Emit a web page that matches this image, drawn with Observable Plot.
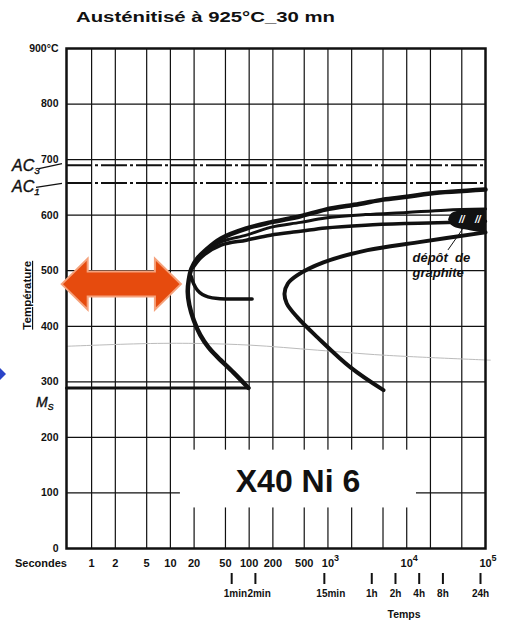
<!DOCTYPE html>
<html><head><meta charset="utf-8">
<script src="https://cdn.jsdelivr.net/npm/d3@7"></script>
<script src="https://cdn.jsdelivr.net/npm/@observablehq/plot@0.6"></script>
<style>html,body{margin:0;padding:0;background:#fff;} #chart svg{display:block}</style>
</head><body><div id="chart"></div>
<script>
// ---------- data ----------
const titleText = "Austénitisé à 925°C_30 mn";
const xTickValues = [1, 2, 5, 10, 20, 50, 100, 200, 500];
const xTickLabels = ["1", "2", "5", "10", "20", "50", "100", "200", "500"];
const powerTickValues = [1000, 10000, 100000];
const powerBase = "10";
const powerExponents = ["3", "4", "5"];
const xGridValues = [1, 2, 5, 10, 20, 50, 100, 200, 500, 1000, 2000, 5000, 10000, 20000, 50000];
const yTickValues = [0, 100, 200, 300, 400, 500, 600, 700, 800, 900];
const yTickLabels = ["0", "100", "200", "300", "400", "500", "600", "700", "800", "900°C"];
const yGridValues = [100, 200, 300, 400, 500, 600, 700, 800];
const minuteTickValues = [60, 120, 900];
const minuteTickLabels = ["1min", "2min", "15min"];
const hourTickValues = [3600, 7200, 14400, 28800, 86400];
const hourTickLabels = ["1h", "2h", "4h", "8h", "24h"];
const criticalNames = ["AC", "AC", "M"];
const criticalSubs = ["3", "1", "S"];
const criticalValues = [690, 658, 289];

// curves: [time (s), temperature (°C)]
const startCurve = [[98,289],[63,317],[40,344],[30.5,362],[24,384],[19.8,411],[17.4,438],[16.6,462],[17.1,483],[18.5,504],[22,522],[28,537],[44,558],[92,576],[186,587],[448,598],[930,610],[2500,620],[5000,628],[10000,633],[20000,639],[100000,646]];
const hookCurve = [[18.3,490],[19.8,476],[22,465],[25.5,457],[30,453],[40,450],[60,449],[109,449]];
const upperCurve2 = [[20,512],[26,530],[44,552],[92,564],[186,578],[448,587],[930,595],[3000,601],[10000,605],[31000,609],[100000,611]];
const upperCurve3 = [[19.5,506],[25,525],[44,546],[92,555],[186,564],[448,571],[930,577],[3000,582],[10000,585],[33000,587],[100000,589]];
const endCurve = [[5070,285],[1933,326],[737,380],[410,416],[300,441],[281,459],[310,477],[410,492],[877,515],[3180,537],[13700,551],[100000,569]];
const msLine = [[0.48,289],[98,289]];
const faintLine = [[0.48,364],[5.6,369],[24,369],[104,366],[737,357],[5070,348],[115000,339]];
const blobTimes = [34000, 37000, 45000, 60000, 100000];
const blobLow = [591, 582, 576, 573, 567];
const blobHigh = [591, 602, 607, 609, 611];
const hatchTimes = [50000, 80000];
const hatchTemp = 592;
const graphiteLeader = [[50600,574],[33600,538]];
const graphiteLines = ["dépôt\u00a0\u00a0de", "graphite"];
const graphiteTime = 11830;
const graphiteTemps = [523, 496];
const steelName = "X40 Ni 6";
const steelLabel = {t: 417, T: 120};
const steelBox = {t1: 13.4, t2: 13300, T1: 73, T2: 177};
const arrow = {from: 0.423, to: 13.8, T: 475};

// ---------- chart ----------
const FONT = "'Liberation Sans', Arial, Helvetica, sans-serif";
const INK = "#111";
const pts = (arr) => arr.map(([t, T]) => ({t, T}));
const blob = blobTimes.map((t, i) => ({t, lo: blobLow[i], hi: blobHigh[i]}));

function marginNotes(index, scales, values, dim) {
  const x = scales.x, y = scales.y;
  const ml = dim.marginLeft, mt = dim.marginTop;
  const g = d3.create("svg:g").attr("font-family", FONT).attr("fill", INK)
    .attr("font-weight", "bold").attr("text-anchor", "start");
  // title
  g.append("text").attr("x", ml + 10).attr("y", mt - 26).attr("font-size", 14)
    .attr("textLength", 259).attr("lengthAdjust", "spacingAndGlyphs").text(titleText);
  // y label
  g.append("text").attr("transform", `translate(${ml - 35},${y(455)}) rotate(-90)`)
    .attr("text-anchor", "middle").attr("font-size", 11.5).attr("text-decoration", "underline").text("Température");
  // Secondes / Temps
  g.append("text").attr("x", ml - 51).attr("y", y(0) + 19).attr("font-size", 11).text("Secondes");
  g.append("text").attr("x", x(9400)).attr("y", y(0) + 69.5).attr("text-anchor", "middle").attr("font-size", 10.5).text("Temps");
  // critical temperature labels
  const place = [
    {x: ml - 54, dy: 6, size: 16, lead: [[ml - 27, 4], [ml - 4, -1]]},
    {x: ml - 54, dy: 10, size: 16, lead: [[ml - 30, 5], [ml - 4, 1]]},
    {x: ml - 30, dy: 20, size: 14, lead: null}
  ];
  criticalValues.forEach((T, i) => {
    const p = place[i];
    const t = g.append("text").attr("x", p.x).attr("y", y(T) + p.dy).attr("font-size", p.size)
      .attr("font-style", "italic").attr("font-weight", "normal").attr("stroke", INK).attr("stroke-width", 0.4);
    t.append("tspan").text(criticalNames[i]);
    t.append("tspan").attr("font-size", p.size * 0.62).attr("dy", 3).text(criticalSubs[i]);
    if (p.lead) {
      g.append("line").attr("x1", p.lead[0][0]).attr("y1", y(T) + p.lead[0][1])
        .attr("x2", p.lead[1][0]).attr("y2", y(T) + p.lead[1][1]).attr("stroke", INK).attr("stroke-width", 1.3);
    }
  });
  // orange double arrow
  const ax1 = x(arrow.from), ax2 = x(arrow.to), ay = y(arrow.T);
  const hl = 26, hh = 25.5, bh = 12.5;
  const poly = [[ax1, ay], [ax1 + hl, ay - hh], [ax1 + hl, ay - bh], [ax2 - hl, ay - bh], [ax2 - hl, ay - hh], [ax2, ay],
    [ax2 - hl, ay + hh], [ax2 - hl, ay + bh], [ax1 + hl, ay + bh], [ax1 + hl, ay + hh]];
  g.append("polygon").attr("points", poly.map(p => p.join(",")).join(" "))
    .attr("fill", "#E64B0E").attr("stroke", "#F5A27C").attr("stroke-width", 2);
  // small blue mark at the left edge (slide artefact)
  const by = y(313);
  g.append("polygon").attr("points", `0,${by - 6} 6,${by} 0,${by + 6}`).attr("fill", "#2a44c8");
  return g.node();
}

const labelStyle = {frameAnchor: "bottom", lineAnchor: "top", fontWeight: "bold", fill: INK};

const chart = Plot.plot({
  width: 509, height: 627,
  marginTop: 48, marginBottom: 79, marginLeft: 66, marginRight: 24,
  x: {type: "log", domain: [0.48, 1e5], axis: null},
  y: {domain: [0, 900], axis: null},
  style: {fontFamily: FONT, background: "white", color: INK, overflow: "visible"},
  marks: [
    Plot.ruleX(xGridValues, {stroke: INK, strokeWidth: 1.2}),
    Plot.ruleY(yGridValues, {stroke: INK, strokeWidth: 1.2}),
    Plot.rect([steelBox], {x1: "t1", x2: "t2", y1: "T1", y2: "T2", fill: "white"}),
    Plot.line(pts(faintLine), {x: "t", y: "T", stroke: "#bbb", strokeWidth: 1, curve: "catmull-rom"}),
    Plot.ruleY(criticalValues.slice(0, 2), {stroke: INK, strokeWidth: 2, strokeDasharray: "26,3,3,3"}),
    Plot.line(pts(msLine), {x: "t", y: "T", stroke: INK, strokeWidth: 3}),
    Plot.line(pts(startCurve), {x: "t", y: "T", stroke: INK, strokeWidth: 4.5, curve: "catmull-rom"}),
    Plot.line(pts(hookCurve), {x: "t", y: "T", stroke: INK, strokeWidth: 3.5, curve: "catmull-rom"}),
    Plot.line(pts(upperCurve2), {x: "t", y: "T", stroke: INK, strokeWidth: 3, curve: "catmull-rom"}),
    Plot.line(pts(upperCurve3), {x: "t", y: "T", stroke: INK, strokeWidth: 3.5, curve: "catmull-rom"}),
    Plot.line(pts(endCurve), {x: "t", y: "T", stroke: INK, strokeWidth: 4, curve: "catmull-rom"}),
    Plot.areaY(blob, {x: "t", y1: "lo", y2: "hi", fill: INK, curve: "catmull-rom"}),
    Plot.text(hatchTimes, {x: d => d, y: () => hatchTemp, text: () => "//", fill: "white", fontSize: 10, fontWeight: "bold", fontStyle: "italic"}),
    Plot.line(pts(graphiteLeader), {x: "t", y: "T", stroke: INK, strokeWidth: 1}),
    Plot.text(graphiteLines, {x: () => graphiteTime, y: (d, i) => graphiteTemps[i], text: d => d, textAnchor: "start",
      fontSize: 13, fontWeight: "bold", fontStyle: "italic", fill: INK}),
    Plot.text([steelLabel], {x: "t", y: "T", text: () => steelName, fontSize: 32, fontWeight: "bold", fill: INK, fontFamily: FONT}),
    Plot.axisY(yTickValues, {tickFormat: d => yTickLabels[yTickValues.indexOf(d)], tickSize: 0, tickPadding: 8,
      fontSize: 10.5, fontWeight: "bold", label: null}),
    Plot.text(xTickValues, {x: d => d, text: (d, i) => xTickLabels[i], dy: 11, fontSize: 11, ...labelStyle}),
    Plot.text(powerTickValues, {x: d => d, text: () => powerBase, dy: 11, fontSize: 11, ...labelStyle}),
    Plot.text(powerTickValues, {x: d => d, text: (d, i) => powerExponents[i], dy: 6, dx: 6, textAnchor: "start", fontSize: 9, ...labelStyle}),
    Plot.axisX([...minuteTickValues, ...hourTickValues], {tickFormat: () => "", tickSize: 11, tickPadding: 0, dy: 25, strokeWidth: 2, label: null}),
    Plot.text(minuteTickValues, {x: d => d, text: (d, i) => minuteTickLabels[i], dy: 41, dx: -8, textAnchor: "start", fontSize: 10, ...labelStyle}),
    Plot.text(hourTickValues, {x: d => d, text: (d, i) => hourTickLabels[i], dy: 41, fontSize: 10, ...labelStyle}),
    Plot.frame({stroke: INK, strokeWidth: 2.5}),
    marginNotes
  ]
});
document.getElementById("chart").appendChild(chart);
</script>
</body></html>
